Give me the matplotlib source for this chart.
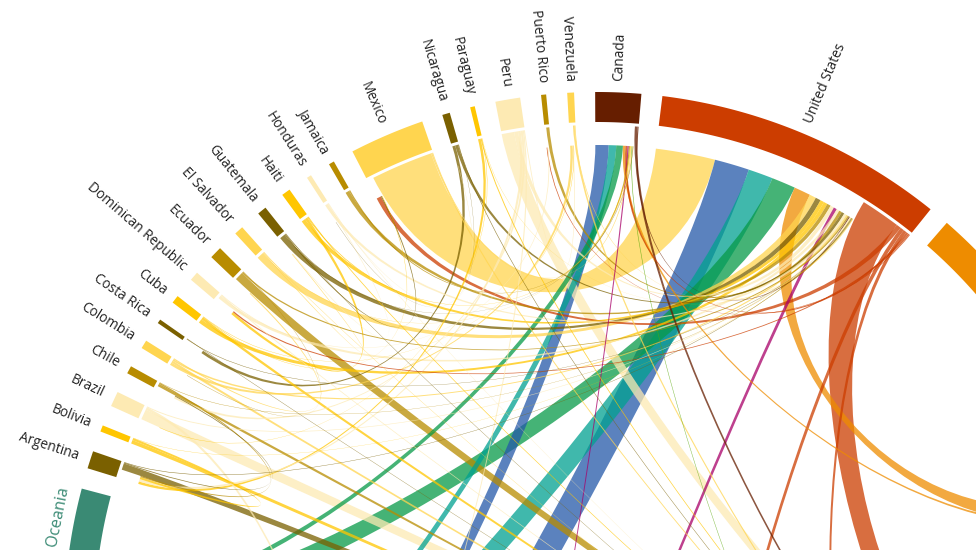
import numpy as np
import matplotlib
matplotlib.use("Agg")
import matplotlib.pyplot as plt
from matplotlib.path import Path
from matplotlib.patches import PathPatch, Polygon

# ---------------- data (migrant stock, thousands) ----------------
nodes = ["Argentina", "Bolivia", "Brazil", "Chile", "Colombia", "Costa Rica", "Cuba",
         "Dominican Republic", "Ecuador", "El Salvador", "Guatemala", "Haiti", "Honduras",
         "Jamaica", "Mexico", "Nicaragua", "Paraguay", "Peru", "Puerto Rico", "Venezuela",
         "Canada", "United States",
         "Western Europe", "Southern Europe", "Africa", "Western Asia", "Eastern Asia",
         "South-Eastern Asia", "Southern Asia", "Oceania"]

node_colors = ["#7a6000", "#ffc600", "#fdeab3", "#b88c00", "#ffd54f", "#7a6000", "#ffc600",
               "#fdeab3", "#b88c00", "#ffd54f", "#7a6000", "#ffc600", "#fdeab3",
               "#b88c00", "#ffd54f", "#7a6000", "#ffc600", "#fdeab3", "#b88c00", "#ffd54f",
               "#661e00", "#cc3d00",
               "#ee8c00", "#f5a742", "#58a808", "#a80068", "#2458a8",
               "#00a190", "#079a48", "#3a8a74"]

region_nodes = ["Western Europe", "Southern Europe", "Africa", "Western Asia", "Eastern Asia",
                "South-Eastern Asia", "Southern Asia", "Oceania"]

# migrants of each node with partners that are not drawn as ribbons
unshown_nodes = ["Western Europe", "Western Asia", "Eastern Asia", "South-Eastern Asia",
                 "Southern Asia", "Africa", "Oceania"]
unshown_values = [54000, 19280, 19390, 2700, 3260, 1560, 10810]

flow_from = [
    "Mexico", "El Salvador", "Guatemala", "Haiti", "Cuba", "Peru", "Dominican Republic",
    "Puerto Rico", "Jamaica", "Nicaragua", "Honduras", "Colombia", "Ecuador", "Canada",
    "Brazil", "Venezuela", "Argentina", "Costa Rica", "Chile", "Bolivia", "Paraguay",
    "Eastern Asia", "South-Eastern Asia", "Southern Asia", "Western Europe", "Western Asia",
    "United States", "United States", "United States", "United States", "United States",
    "United States", "United States",
    "Eastern Asia", "South-Eastern Asia", "Southern Asia", "Western Europe", "Western Asia",
    "Jamaica", "Haiti", "Mexico", "Africa", "El Salvador", "Guatemala", "Canada",
    "Argentina", "Bolivia", "Brazil", "Chile", "Colombia", "Costa Rica", "Cuba",
    "Dominican Republic", "Ecuador", "El Salvador", "Guatemala", "Haiti", "Honduras",
    "Mexico", "Nicaragua", "Paraguay", "Peru", "Venezuela",
    "Paraguay", "Bolivia", "Peru", "Chile", "Argentina", "Peru", "Nicaragua", "Colombia",
    "Peru", "Cuba", "Haiti", "Guatemala", "Cuba", "El Salvador", "Honduras", "Honduras",
    "Nicaragua", "Colombia", "Ecuador", "Dominican Republic", "Paraguay",
    "Brazil", "Peru",
    "Western Asia", "Southern Asia", "Southern Europe", "Southern Europe", "Western Asia",
    "Eastern Asia", "Southern Asia", "Southern Asia", "Eastern Asia", "South-Eastern Asia",
    "Southern Asia", "Southern Asia", "Southern Asia"]

flow_to = [
    "United States", "United States", "United States", "United States", "United States",
    "United States", "United States", "United States", "United States", "United States",
    "United States", "United States", "United States", "United States", "United States",
    "United States", "United States", "United States", "United States", "United States",
    "United States",
    "United States", "United States", "United States", "United States", "United States",
    "Southern Europe", "Mexico", "Western Asia", "Africa", "Canada", "Dominican Republic",
    "Puerto Rico",
    "Canada", "Canada", "Canada", "Canada", "Canada", "Canada", "Canada", "Canada", "Canada",
    "Canada", "Canada", "Southern Europe",
    "Southern Europe", "Southern Europe", "Southern Europe", "Southern Europe",
    "Southern Europe", "Southern Europe", "Southern Europe", "Southern Europe",
    "Southern Europe", "Southern Europe", "Southern Europe", "Southern Europe",
    "Southern Europe", "Southern Europe", "Southern Europe", "Southern Europe",
    "Southern Europe", "Southern Europe",
    "Argentina", "Argentina", "Argentina", "Argentina", "Chile", "Chile", "Costa Rica",
    "Venezuela", "Venezuela", "Venezuela", "Dominican Republic", "Mexico", "Mexico",
    "Guatemala", "Guatemala", "Nicaragua", "Honduras", "Ecuador", "Colombia",
    "Puerto Rico", "Brazil",
    "Eastern Asia", "Eastern Asia",
    "Southern Europe", "Southern Europe", "Western Asia", "Eastern Asia", "Africa",
    "Western Asia", "Western Asia", "Eastern Asia", "South-Eastern Asia", "Eastern Asia",
    "Africa", "Southern Europe", "South-Eastern Asia"]

flow_value = [
    11230, 1250, 980, 720, 720, 700, 550, 550, 705, 515, 470, 310, 265, 200,
    170, 140, 110, 95, 80, 60, 50,
    6550, 4680, 4520, 3120, 620,
    7180, 860, 700, 620, 390, 235, 155,
    2500, 1400, 1250, 470, 235, 235, 155, 155, 125, 110, 80, 470,
    1170, 640, 1870, 470, 390, 80, 470, 155, 1560, 80, 80, 155, 80, 235, 125, 190, 2260, 310,
    470, 390, 470, 235, 155, 390, 530, 470, 155, 80, 470, 190, 95, 125, 110, 80,
    50, 200, 80, 155, 80,
    470, 235,
    35260, 7490, 12480, 4090, 2340, 2960, 13510, 9360, 5850, 2810,
    1200, 1200, 1200]

# ---------------- layout ----------------
CX, CY = 597.0, 625.0          # circle centre (pixel space)
R_OUT, R_IN = 533.0, 503.0     # node blocks
R_SRC, R_TGT = 500.0, 480.0    # ribbon ends (source / target)
PAD = 2.27                     # degrees between nodes
START = 162.9                  # angle of first node, going clockwise
CURVE = 0.64
ALPHA = 0.75

idx = {n: i for i, n in enumerate(nodes)}
N = len(nodes)
unshown = dict(zip(unshown_nodes, unshown_values))
totals = np.array([float(unshown.get(n, 0)) for n in nodes])
for s, t, v in zip(flow_from, flow_to, flow_value):
    totals[idx[s]] += v
    totals[idx[t]] += v
k = (360.0 - N * PAD) / totals.sum()

src_span, tgt_span, node_span = {}, {}, []
a = START
for name in nodes:
    a0 = a
    a -= unshown.get(name, 0) * k
    ins = sorted([j for j in range(len(flow_value)) if flow_to[j] == name],
                 key=lambda j: -flow_value[j])
    outs = sorted([j for j in range(len(flow_value)) if flow_from[j] == name],
                  key=lambda j: -flow_value[j])
    for j in ins:
        w = flow_value[j] * k
        tgt_span[j] = (a, a - w)
        a -= w
    for j in outs:
        w = flow_value[j] * k
        src_span[j] = (a, a - w)
        a -= w
    node_span.append((a0, a))
    a -= PAD

C = np.array([CX, CY])


def pt(theta, r):
    t = np.radians(theta)
    return np.array([CX + r * np.cos(t), CY - r * np.sin(t)])


def arc(t0, t1, r):
    m = max(2, int(abs(t1 - t0) * 4) + 2)
    return [pt(t, r) for t in np.linspace(t0, t1, m)]


def ribbon(s0, s1, t0, t1):
    verts, codes = [], []
    sa = arc(s0, s1, R_SRC)
    verts += sa
    codes += [Path.MOVETO] + [Path.LINETO] * (len(sa) - 1)
    p1, p2 = pt(s1, R_SRC), pt(t0, R_TGT)
    verts += [C + CURVE * (p1 - C), C + CURVE * (p2 - C), p2]
    codes += [Path.CURVE4] * 3
    ta = arc(t0, t1, R_TGT)[1:]
    verts += ta
    codes += [Path.LINETO] * len(ta)
    p3, p4 = pt(t1, R_TGT), pt(s0, R_SRC)
    verts += [C + CURVE * (p3 - C), C + CURVE * (p4 - C), p4]
    codes += [Path.CURVE4] * 3
    verts.append(p4)
    codes.append(Path.CLOSEPOLY)
    return Path(verts, codes)


# ---------------- drawing ----------------
plt.rcParams["font.family"] = ["Open Sans", "DejaVu Sans"]
W, H = 976, 550
fig = plt.figure(figsize=(W / 100, H / 100), dpi=100)
ax = fig.add_axes([0, 0, 1, 1])
ax.set_xlim(0, W)
ax.set_ylim(H, 0)
ax.axis("off")

order = sorted(range(len(flow_value)), key=lambda j: -flow_value[j])
for j in order:
    s0, s1 = src_span[j]
    t0, t1 = tgt_span[j]
    col = node_colors[idx[flow_from[j]]]
    ax.add_patch(PathPatch(ribbon(s0, s1, t0, t1), facecolor=col, edgecolor="none",
                           alpha=ALPHA, zorder=2))

for i, name in enumerate(nodes):
    a0, a1 = node_span[i]
    poly = arc(a0, a1, R_OUT) + arc(a1, a0, R_IN)
    ax.add_patch(Polygon(poly, closed=True, facecolor=node_colors[i], edgecolor="none",
                         zorder=3))
    m = (a0 + a1) / 2.0
    mm = ((m + 180) % 360) - 180
    if name in region_nodes:
        x, y = pt(m, 550)
        if not (0 <= x <= W and 0 <= y <= H):
            continue
        rot = mm - 90
        if rot < -90:
            rot += 180
        if rot > 90:
            rot -= 180
        ax.text(x, y, name, rotation=rot, rotation_mode="anchor", ha="center",
                va="center", color=node_colors[i], fontsize=11.5, zorder=4)
    else:
        x, y = pt(m, 545)
        if -90 < mm <= 90:
            rot, ha = mm, "left"
        else:
            rot, ha = mm - 180, "right"
            if rot < -180:
                rot += 360
        ax.text(x, y, name, rotation=rot, rotation_mode="anchor", ha=ha, va="center",
                color="#222222", fontsize=9.8, zorder=4)

fig.savefig("out.png", dpi=100)
